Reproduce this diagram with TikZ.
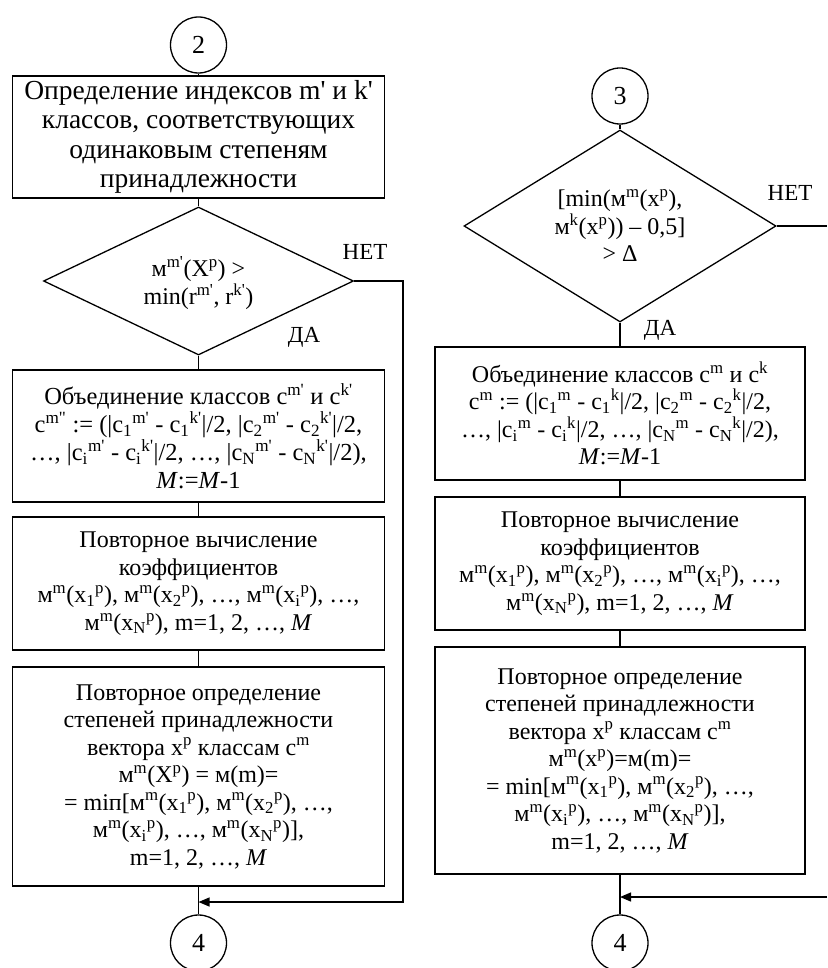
\documentclass[tikz,border=0pt]{standalone}
\usepackage{fontspec}
\setmainfont{Liberation Serif}
\usetikzlibrary{shapes.geometric,arrows.meta}
\newcommand{\Up}[1]{\textsuperscript{#1}}
\newcommand{\Dn}[1]{\textsubscript{#1}}
\newcommand{\pr}{\textquotesingle}
\tikzset{
  base/.style={font=\fontsize{24}{27.5}\selectfont, line width=1.3pt},
  big/.style={font=\fontsize{27.5}{29.5}\selectfont},
  blk/.style={draw, base, align=center, inner sep=0pt, minimum width=#1},
  conn/.style={draw, circle, base, font=\fontsize{26}{28}\selectfont, minimum size=56pt, inner sep=0pt},
  dia/.style={draw, diamond, base, inner sep=0pt},
  txt/.style={base, align=center, inner sep=0pt},
  lbl/.style={base, font=\fontsize{23}{25}\selectfont, inner sep=0pt},
  lnk/.style={line width=1.3pt},
  arr/.style={line width=1.3pt, -{Triangle[length=11pt,width=9pt]}}
}
\begin{document}
\begin{tikzpicture}[x=1pt,y=-1pt]
\useasboundingbox (0,0) rectangle (827,968);
% ---------------- left column ----------------
\node[conn] (c2) at (198.5,45) {2};
\node[blk=372pt, big, minimum height=122pt] (b1) at (198.5,137)
  {Определение индексов m\pr{} и k\pr\\ классов, соответствующих\\ одинаковым степеням\\ принадлежности};
\node[dia, minimum width=310pt, minimum height=148pt] (d1) at (198.5,281) {};
\node[txt] (d1t) at ([yshift=-2pt]d1.center) {м\Up{m\pr}(X\Up{p}) >\\ min(r\Up{m\pr}, r\Up{k\pr})};
\node[lbl] (no1) at (365,252) {НЕТ};
\node[lbl] (yes1) at (304,337) {ДА};
\node[blk=372pt, minimum height=132pt, font=\fontsize{24.5}{28}\selectfont] (b2) at (198.5,436)
  {Объединение классов c\Up{m\pr} и c\Up{k\pr}\\
   c\Up{m\textquotedbl} := (|c\Dn{1}\Up{m\pr} - c\Dn{1}\Up{k\pr}|/2, |c\Dn{2}\Up{m\pr} - c\Dn{2}\Up{k\pr}|/2,\\
   …, |c\Dn{i}\Up{m\pr} - c\Dn{i}\Up{k\pr}|/2, …, |c\Dn{N}\Up{m\pr} - c\Dn{N}\Up{k\pr}|/2),\\
   \textit{M}:=\textit{M}-1};
\node[blk=372pt, minimum height=133pt] (b3) at (198.5,583.5)
  {Повторное вычисление\\ коэффициентов\\
   м\Up{m}(x\Dn{1}\Up{p}), м\Up{m}(x\Dn{2}\Up{p}), …, м\Up{m}(x\Dn{i}\Up{p}), …,\\
   м\Up{m}(x\Dn{N}\Up{p}), m=1, 2, …, \textit{M}};
\node[blk=372pt, minimum height=219pt] (b4) at (198.5,776.5)
  {Повторное определение\\ степеней принадлежности\\ вектора x\Up{p} классам c\Up{m}\\
   м\Up{m}(X\Up{p}) = м(m)=\\
   = miп[м\Up{m}(x\Dn{1}\Up{p}), м\Up{m}(x\Dn{2}\Up{p}), …,\\
   м\Up{m}(x\Dn{i}\Up{p}), …, м\Up{m}(x\Dn{N}\Up{p})],\\
   m=1, 2, …, \textit{M}};
\node[conn] (c4a) at (198.5,943) {4};
\coordinate (lr) at (403,902);
\draw[lnk] (c2) -- (b1);
\draw[lnk] (b1) -- (d1);
\draw[lnk] (d1) -- (b2);
\draw[lnk] (b2) -- (b3);
\draw[lnk] (b3) -- (b4);
\draw[lnk] (b4) -- (c4a);
\draw[arr] (d1.east) -| (lr) -- (lr -| b4.south);
% ---------------- right column ----------------
\node[conn] (c3) at (620,96) {3};
\node[dia, minimum width=312pt, minimum height=192pt] (d2) at (620,226) {};
\node[txt] (d2t) at (d2.center) {[min(м\Up{m}(x\Up{p}),\\ м\Up{k}(x\Up{p})) – 0,5]\\ > Δ};
\node[lbl] (no2) at (790,193) {НЕТ};
\node[lbl] (yes2) at (660,330) {ДА};
\node[blk=370pt, minimum height=133pt] (r1) at (620,413.5)
  {Объединение классов c\Up{m} и c\Up{k}\\
   c\Up{m} := (|c\Dn{1}\Up{m} - c\Dn{1}\Up{k}|/2, |c\Dn{2}\Up{m} - c\Dn{2}\Up{k}|/2,\\
   …, |c\Dn{i}\Up{m} - c\Dn{i}\Up{k}|/2, …, |c\Dn{N}\Up{m} - c\Dn{N}\Up{k}|/2),\\
   \textit{M}:=\textit{M}-1};
\node[blk=370pt, minimum height=133pt] (r2) at (620,563.5)
  {Повторное вычисление\\ коэффициентов\\
   м\Up{m}(x\Dn{1}\Up{p}), м\Up{m}(x\Dn{2}\Up{p}), …, м\Up{m}(x\Dn{i}\Up{p}), …,\\
   м\Up{m}(x\Dn{N}\Up{p}), m=1, 2, …, \textit{M}};
\node[blk=370pt, minimum height=227pt] (r3) at (620,760.5)
  {Повторное определение\\ степеней принадлежности\\ вектора x\Up{p} классам c\Up{m}\\
   м\Up{m}(x\Up{p})=м(m)=\\
   = min[м\Up{m}(x\Dn{1}\Up{p}), м\Up{m}(x\Dn{2}\Up{p}), …,\\
   м\Up{m}(x\Dn{i}\Up{p}), …, м\Up{m}(x\Dn{N}\Up{p})],\\
   m=1, 2, …, \textit{M}};
\node[conn] (c4b) at (620,943) {4};
\coordinate (rout) at (827,226);
\coordinate (rin) at (827,897);
\draw[lnk] (c3) -- (d2);
\draw[lnk] (d2) -- (r1);
\draw[lnk] (r1) -- (r2);
\draw[lnk] (r2) -- (r3);
\draw[lnk] (r3) -- (c4b);
\draw[lnk] (d2.east) -- (rout);
\draw[arr] (rin) -- (rin -| r3.south);
\end{tikzpicture}
\end{document}
